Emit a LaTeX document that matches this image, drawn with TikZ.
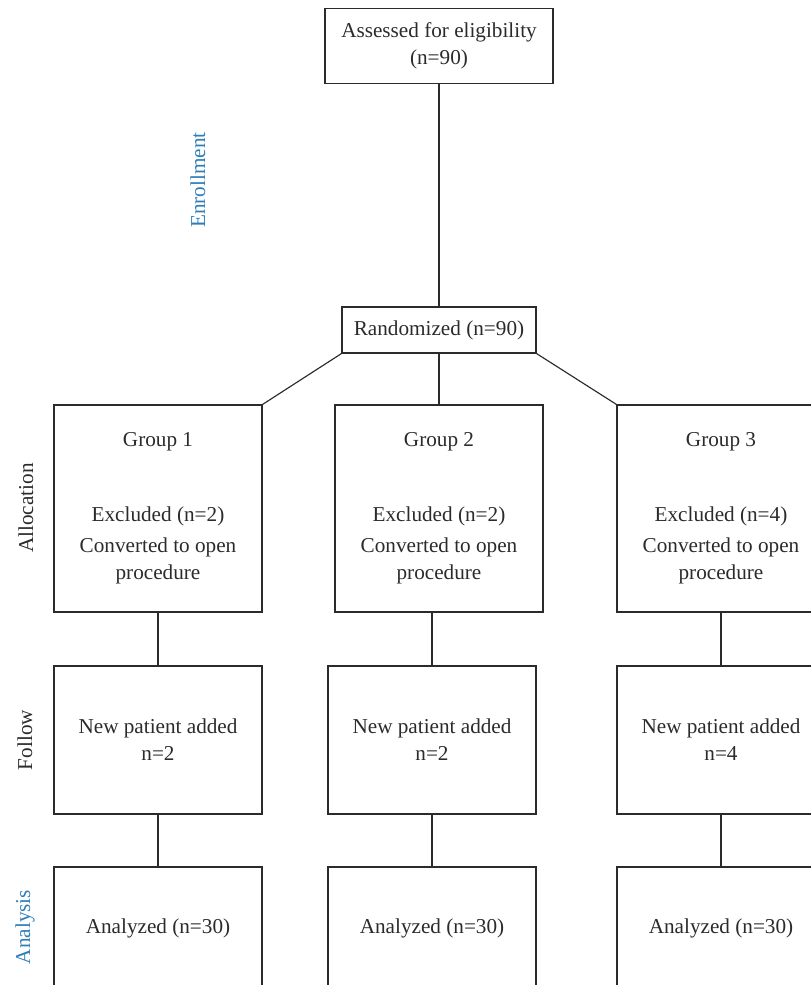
\documentclass[tikz,border=0pt]{standalone}
\usepackage{fontspec}
\setmainfont{Liberation Serif}
\definecolor{lab}{HTML}{2E7EB8}
\definecolor{ink}{HTML}{2B2B2B}
\tikzset{
  box/.style={draw=ink, line width=1.15pt, align=center, inner sep=0pt, text=ink,
    font=\fontsize{21.2}{27}\selectfont},
  conn/.style={draw=ink, line width=1.15pt},
  side/.style={rotate=90, anchor=base, font=\fontsize{21.2}{25}\selectfont}
}
\begin{document}
\begin{tikzpicture}[x=1pt,y=-1pt]
\useasboundingbox (0,0) rectangle (811,985);
\begin{scope}
\clip (0,0) rectangle (811,985);
% boxes
\node[box, minimum width=228, minimum height=75] (assess) at (439,46) {Assessed for eligibility\\(n=90)};
\node[box, minimum width=194, minimum height=46] (rand) at (439,330) {Randomized (n=90)};
\node[box, minimum width=208, minimum height=207] (g1) at (158,508.5) {Group 1\\[48pt]Excluded (n=2)\\[4pt]Converted to open\\procedure};
\node[box, minimum width=208, minimum height=207] (g2) at (439,508.5) {Group 2\\[48pt]Excluded (n=2)\\[4pt]Converted to open\\procedure};
\node[box, minimum width=208, minimum height=207] (g3) at (721,508.5) {Group 3\\[48pt]Excluded (n=4)\\[4pt]Converted to open\\procedure};
\node[box, minimum width=208, minimum height=148] (f1) at (158,740) {New patient added\\n=2};
\node[box, minimum width=208, minimum height=148] (f2) at (432,740) {New patient added\\n=2};
\node[box, minimum width=208, minimum height=148] (f3) at (721,740) {New patient added\\n=4};
\node[box, minimum width=208, minimum height=122] (a1) at (158,928) {Analyzed (n=30)};
\node[box, minimum width=208, minimum height=122] (a2) at (432,928) {Analyzed (n=30)};
\node[box, minimum width=208, minimum height=122] (a3) at (721,928) {Analyzed (n=30)};
% connectors
\draw[conn] (assess.south) -- (rand.north);
\draw[conn] (rand.south west) -- (g1.north east);
\draw[conn] (rand.south) -- (g2.north);
\draw[conn] (rand.south east) -- (g3.north west);
\draw[conn] (g1.south) -- (f1.north);
\draw[conn] (f2.north |- g2.south) -- (f2.north);
\draw[conn] (g3.south) -- (f3.north);
\draw[conn] (f1.south) -- (a1.north);
\draw[conn] (f2.south) -- (a2.north);
\draw[conn] (f3.south) -- (a3.north);
\end{scope}
% side labels
\node[side, text=lab] (enr) at (205,180) {Enrollment};
\node[side, text=ink] (alloc) at (33,508) {Allocation};
\node[side, text=ink] (fol) at (32,740) {Follow};
\node[side, text=lab] (ana) at (30,927) {Analysis};
\end{tikzpicture}
\end{document}
